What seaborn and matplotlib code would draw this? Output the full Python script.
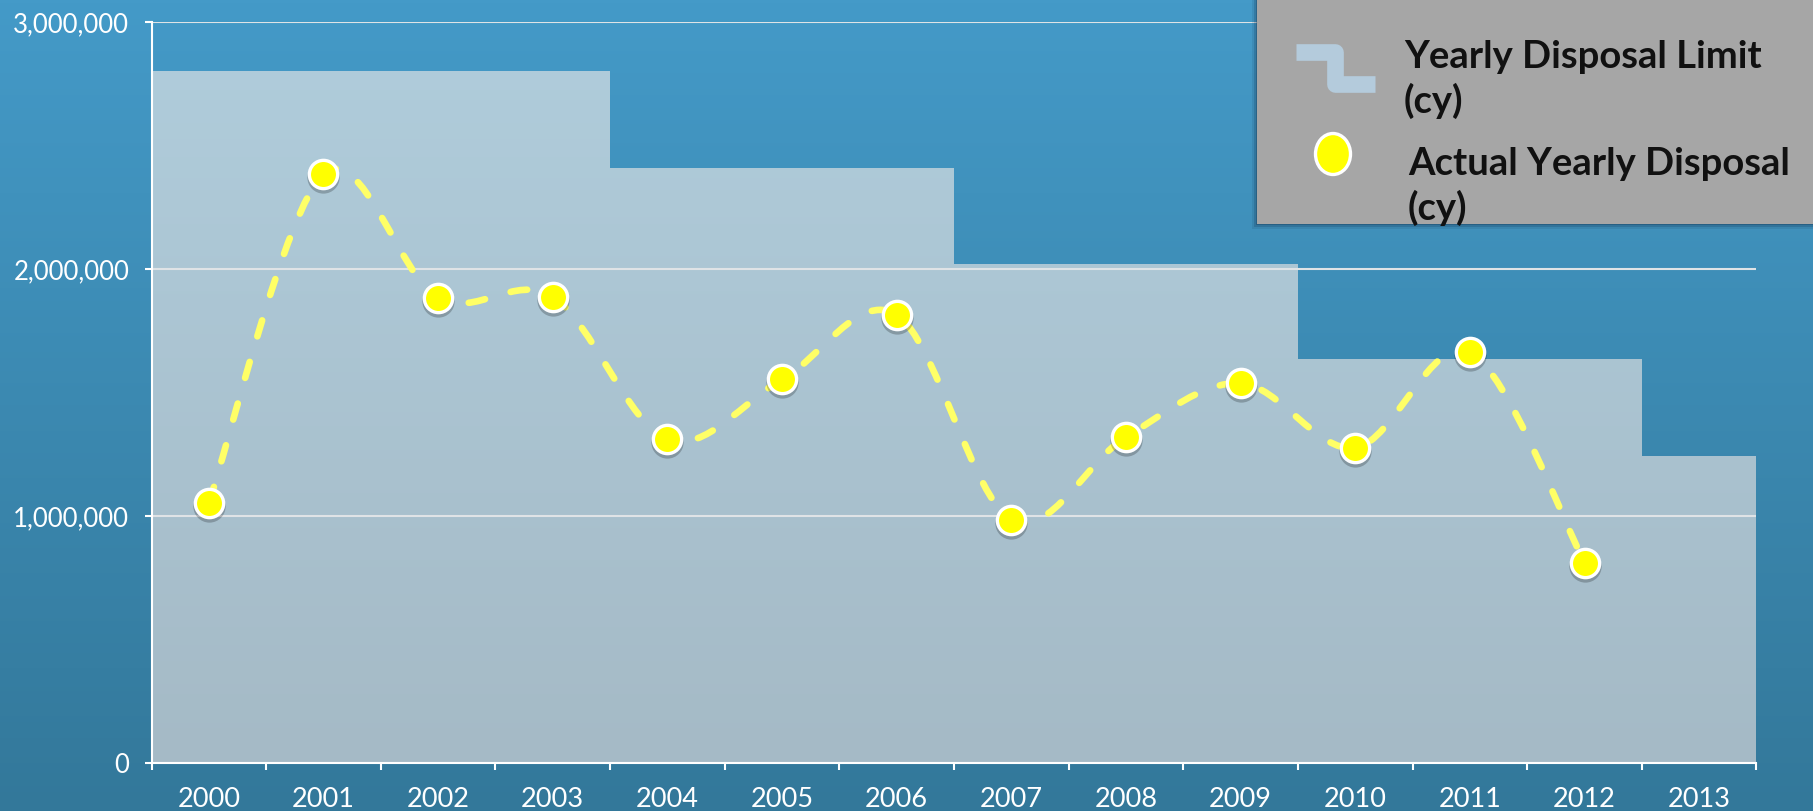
import numpy as np
import matplotlib
matplotlib.use('Agg')
import matplotlib.pyplot as plt
import seaborn as sns
from matplotlib.path import Path
from matplotlib.patches import PathPatch, Rectangle, Ellipse
from matplotlib.lines import Line2D
from matplotlib.transforms import ScaledTranslation
from matplotlib.ticker import StrMethodFormatter

# chart data (cubic yards)
years = ['2000', '2001', '2002', '2003', '2004', '2005', '2006',
         '2007', '2008', '2009', '2010', '2011', '2012', '2013']
limit_cy = [2800000, 2800000, 2800000, 2800000, 2410000, 2410000, 2410000,
            2020000, 2020000, 2020000, 1635000, 1635000, 1635000, 1245000]
actual_cy = [1054000, 2384000, 1883000, 1888000, 1310000, 1553000, 1815000,
             985000, 1320000, 1538000, 1276000, 1664000, 812000]
y_ticks = [0, 1000000, 2000000, 3000000]
legend_labels = [['Yearly Disposal Limit', '(cy)'], ['Actual Yearly Disposal', '(cy)']]

W, H, DPI = 1813, 811, 100

sns.set_theme(style='white')
plt.rcParams['font.family'] = ['Lato', 'DejaVu Sans']


def fx(x):
    return x / W


def fy(y):
    return 1 - y / H


fig = plt.figure(figsize=(W / DPI, H / DPI), dpi=DPI)

# background gradient over the whole figure
bg = fig.add_axes([0, 0, 1, 1], zorder=-5)
top_c = np.array([0x44, 0x9a, 0xc8]) / 255
bot_c = np.array([0x33, 0x78, 0x9a]) / 255
t = np.linspace(0, 1, 256)[:, None, None]
bg.imshow(top_c * (1 - t) + bot_c * t, extent=[0, 1, 0, 1], aspect='auto')
bg.axis('off')

left, right, top, bottom = 151.5, 1756.5, 22, 763.1
ax = fig.add_axes([fx(left), fy(bottom), fx(right - left), (bottom - top) / H])
ax.set_facecolor('none')

n = len(years)
pos = np.arange(n)
ax.set_xlim(-0.5, n - 0.5)
ax.set_ylim(0, 3000000)

# yearly limit as a filled step area with a soft vertical gradient
steps = ax.stairs(limit_cy, edges=np.arange(n + 1) - 0.5, fill=True,
                  color='#a9c2cf', zorder=1)
ft = np.array([0xb0, 0xcd, 0xdc]) / 255
fb = np.array([0xa5, 0xba, 0xc6]) / 255
im = ax.imshow(ft * (1 - t) + fb * t, extent=[-0.5, n - 0.5, 0, 3000000],
               aspect='auto', zorder=1.1)
im.set_clip_path(steps)

# grid + axes styling
ax.set_axisbelow('line')
ax.set_yticks(y_ticks)
ax.yaxis.set_major_formatter(StrMethodFormatter('{x:,.0f}'))
ax.grid(axis='y', color='#dfe3e6', lw=1.5)
ax.grid(axis='x', visible=False)
for s in ['top', 'right']:
    ax.spines[s].set_visible(False)
for s in ['left', 'bottom']:
    ax.spines[s].set_color('white')
    ax.spines[s].set_linewidth(1.5)
    ax.spines[s].set_zorder(3)

ax.set_xticks(pos)
ax.set_xticklabels(years)
ax.set_xticks(np.arange(n + 1) - 0.5, minor=True)
ax.tick_params(axis='x', which='major', length=0, pad=17, labelsize=19.5, labelcolor='white')
ax.tick_params(axis='x', which='minor', length=5, width=1.5, color='white', direction='out')
ax.tick_params(axis='y', which='major', length=5, width=1.5, color='white', direction='out',
               pad=11, labelsize=18.5, labelcolor='white')
ax.tick_params(left=True, bottom=True)
ax.tick_params(axis='x', which='minor', bottom=True)

# smooth dashed line through actual disposal (bezier, excel-style smoothing)
px = pos[:len(actual_cy)].astype(float)
P = np.column_stack([px, np.array(actual_cy, dtype=float)])
verts = [P[0]]
codes = [Path.MOVETO]
for i in range(len(P) - 1):
    p0 = P[max(i - 1, 0)]
    p3 = P[min(i + 2, len(P) - 1)]
    c1 = P[i] + (P[i + 1] - p0) / 6
    c2 = P[i + 1] - (p3 - P[i]) / 6
    verts += [c1, c2, P[i + 1]]
    codes += [Path.CURVE4] * 3
curve = PathPatch(Path(verts, codes), fill=False, edgecolor='#ffff66', lw=4.8,
                  linestyle=(0, (2.5, 4.0)), capstyle='round', zorder=3)
ax.add_patch(curve)

# marker shadows then markers
shadow = ax.transData + ScaledTranslation(0, -0.03, fig.dpi_scale_trans)
ax.scatter(px, actual_cy, s=540, color=(0, 0, 0, 0.22), linewidths=0,
           transform=shadow, zorder=4)
sns.scatterplot(x=px, y=actual_cy, ax=ax, s=415, color='#ffff00',
                edgecolor='white', linewidth=2.4, zorder=5, legend=False)

# legend box drawn by hand at top-right
box_l, box_b = 1257, 224
for off, a in [(5, 0.10), (3, 0.18), (1.5, 0.25)]:
    fig.add_artist(Rectangle((fx(box_l - off), fy(box_b + off)), fx(W - box_l + off),
                             (box_b + off) / H, transform=fig.transFigure,
                             color=(0.05, 0.15, 0.25, a), lw=0, zorder=8))
fig.add_artist(Rectangle((fx(box_l), fy(box_b)), fx(W - box_l), box_b / H,
                         transform=fig.transFigure, color='#a6a6a6', lw=0, zorder=9))

fig.add_artist(Line2D([fx(1296), fx(1335), fx(1335), fx(1375)],
                      [fy(52), fy(52), fy(84), fy(84)], transform=fig.transFigure,
                      color='#b4cbdc', lw=12, solid_capstyle='butt',
                      solid_joinstyle='round', zorder=10))
fig.add_artist(Ellipse((fx(1333), fy(154)), fx(35), 41 / H, transform=fig.transFigure,
                       facecolor='#ffff00', edgecolor='white', lw=2.4, zorder=10))

for (l1, l2), x0, y0 in zip(legend_labels, [1404, 1408], [68, 175]):
    fig.text(fx(x0), fy(y0), l1, fontsize=27.5, fontweight='bold', color='#111111',
             va='baseline', ha='left', zorder=11)
    fig.text(fx(x0), fy(y0 + 45), l2, fontsize=27.5, fontweight='bold', color='#111111',
             va='baseline', ha='left', zorder=11)

fig.savefig('out.png', dpi=DPI)
